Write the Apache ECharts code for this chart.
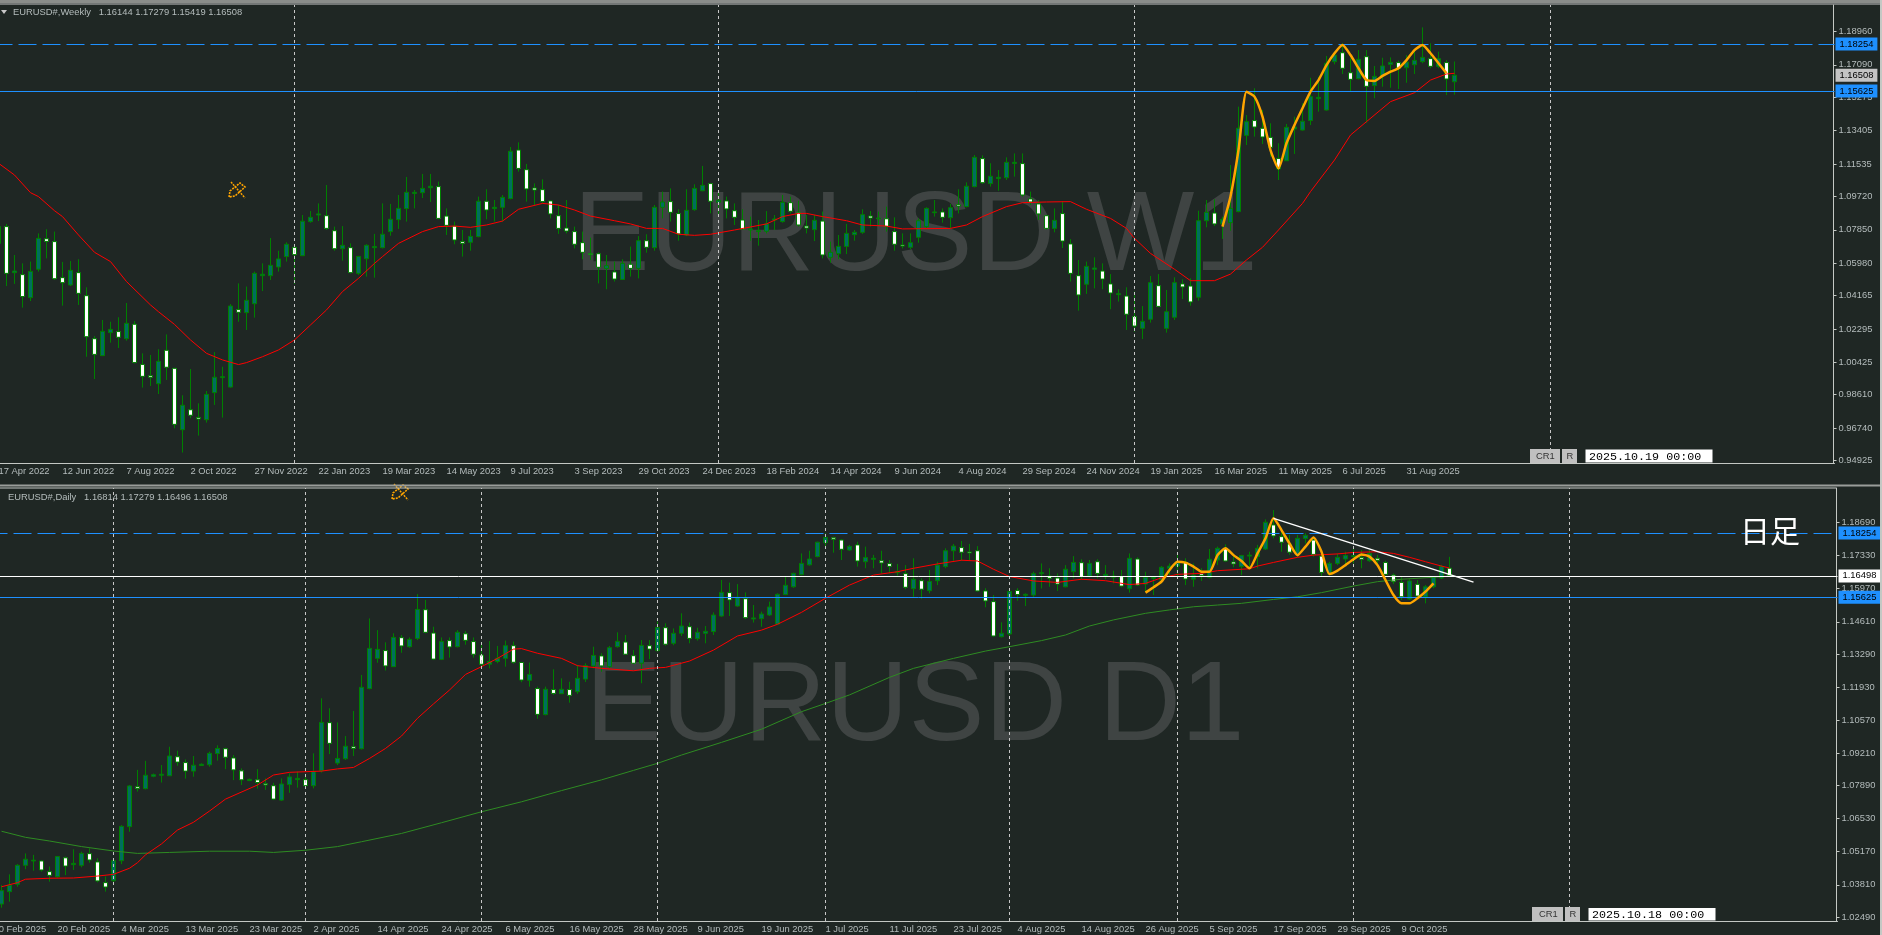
<!DOCTYPE html>
<html>
<head>
<meta charset="utf-8">
<title>EURUSD W1 / D1</title>
<style>
  html, body { margin: 0; padding: 0; background: #1f2724; }
  #chart { width: 1882px; height: 935px; }
</style>
<script src="https://cdn.jsdelivr.net/npm/echarts@6/dist/echarts.min.js"></script>
</head>
<body>
<div id="chart"></div>
<script>
// weekly bars, [open, close, low, high]
const weekBars = [
[1.0709,1.0803,1.0653,1.0821],[1.0803,1.0541,1.0470,1.0818],[1.0545,1.0554,1.0482,1.0644],[1.0534,1.0411,1.0349,1.0597],[1.0405,1.0552,1.0386,1.0607],
[1.0564,1.0737,1.0551,1.0765],[1.0735,1.0720,1.0625,1.0788],[1.0719,1.0511,1.0504,1.0775],[1.0517,1.0489,1.0360,1.0605],[1.0476,1.0558,1.0470,1.0610],
[1.0545,1.0429,1.0364,1.0620],[1.0416,1.0186,1.0074,1.0463],[1.0175,1.0087,0.9949,1.0190],[1.0080,1.0216,1.0078,1.0280],[1.0209,1.0227,1.0153,1.0270],
[1.0215,1.0183,1.0123,1.0295],[1.0175,1.0261,1.0164,1.0375],[1.0256,1.0041,1.0037,1.0274],[1.0031,0.9964,0.9901,1.0093],[0.9968,0.9959,0.9910,1.0084],
[0.9923,1.0048,0.9865,1.0116],[1.0110,1.0015,0.9944,1.0199],[1.0009,0.9695,0.9673,1.0012],[0.9665,0.9802,0.9537,0.9858],[0.9777,0.9746,0.9729,1.0005],
[0.9734,0.9725,0.9632,0.9813],[0.9721,0.9863,0.9705,0.9882],[0.9873,0.9959,0.9804,1.0100],[0.9957,0.9962,0.9733,1.0018],[0.9904,1.0358,0.9901,1.0369],
[1.0338,1.0323,1.0270,1.0485],[1.0321,1.0390,1.0224,1.0467],[1.0371,1.0541,1.0293,1.0551],[1.0528,1.0536,1.0442,1.0597],[1.0528,1.0586,1.0504,1.0739],
[1.0577,1.0622,1.0551,1.0668],[1.0635,1.0704,1.0607,1.0715],[1.0687,1.0646,1.0482,1.0704],[1.0640,1.0833,1.0638,1.0868],[1.0831,1.0855,1.0825,1.0890],
[1.0868,1.0874,1.0834,1.0933],[1.0864,1.0793,1.0784,1.1036],[1.0780,1.0679,1.0668,1.0803],[1.0679,1.0698,1.0612,1.0806],[1.0685,1.0545,1.0541,1.0709],
[1.0541,1.0636,1.0532,1.0638],[1.0623,1.0698,1.0523,1.0704],[1.0685,1.0691,1.0517,1.0762],[1.0685,1.0760,1.0681,1.0933],[1.0775,1.0844,1.0752,1.0930],
[1.0842,1.0905,1.0790,1.0980],[1.0904,1.0995,1.0831,1.1081],[1.0989,1.0995,1.0905,1.1008],[1.0993,1.1017,1.0963,1.1098],[1.1021,1.1029,1.0941,1.1098],
[1.1027,1.0849,1.0844,1.1055],[1.0862,1.0810,1.0756,1.0905],[1.0806,1.0728,1.0704,1.0831],[1.0719,1.0709,1.0635,1.0784],[1.0715,1.0748,1.0668,1.0784],
[1.0747,1.0945,1.0743,1.0971],[1.0945,1.0896,1.0844,1.1012],[1.0904,1.0911,1.0831,1.0952],[1.0911,1.0967,1.0831,1.0980],[1.0960,1.1225,1.0956,1.1249],
[1.1232,1.1129,1.1111,1.1275],[1.1122,1.1014,1.0943,1.1154],[1.1019,1.1008,1.0924,1.1045],[1.1010,1.0943,1.0933,1.1068],[1.0947,1.0874,1.0849,1.0948],
[1.0864,1.0793,1.0762,1.0924],[1.0795,1.0778,1.0765,1.0952],[1.0775,1.0704,1.0681,1.0803],[1.0713,1.0659,1.0620,1.0775],[1.0653,1.0646,1.0616,1.0741],
[1.0651,1.0575,1.0485,1.0659],[1.0569,1.0584,1.0452,1.0644],[1.0549,1.0509,1.0495,1.0607],[1.0507,1.0597,1.0504,1.0620],[1.0592,1.0569,1.0523,1.0691],
[1.0569,1.0724,1.0513,1.0750],[1.0724,1.0687,1.0657,1.0760],[1.0685,1.0911,1.0668,1.0924],[1.0911,1.0941,1.0849,1.0999],[1.0943,1.0883,1.0831,1.1017],
[1.0876,1.0762,1.0724,1.0900],[1.0756,1.0894,1.0750,1.1012],[1.0898,1.1017,1.0892,1.1040],[1.1004,1.1034,1.1001,1.1143],[1.1044,1.0945,1.0877,1.1044],
[1.0939,1.0950,1.0874,1.0999],[1.0947,1.0902,1.0849,1.0971],[1.0892,1.0855,1.0812,1.0933],[1.0840,1.0788,1.0784,1.0900],[1.0784,1.0790,1.0724,1.0859],
[1.0775,1.0780,1.0696,1.0840],[1.0777,1.0818,1.0765,1.0890],[1.0840,1.0846,1.0784,1.0868],[1.0831,1.0939,1.0825,1.0980],[1.0937,1.0889,1.0877,1.0971],
[1.0883,1.0812,1.0803,1.0948],[1.0806,1.0795,1.0765,1.0868],[1.0786,1.0838,1.0722,1.0868],[1.0834,1.0644,1.0625,1.0887],[1.0631,1.0659,1.0601,1.0719],
[1.0651,1.0692,1.0620,1.0756],[1.0692,1.0765,1.0649,1.0818],[1.0758,1.0771,1.0724,1.0784],[1.0771,1.0870,1.0762,1.0900],[1.0862,1.0851,1.0803,1.0890],
[1.0847,1.0851,1.0806,1.0887],[1.0847,1.0803,1.0775,1.0915],[1.0775,1.0704,1.0668,1.0855],[1.0700,1.0694,1.0681,1.0765],[1.0687,1.0713,1.0676,1.0765],
[1.0743,1.0836,1.0713,1.0849],[1.0803,1.0905,1.0795,1.0911],[1.0881,1.0885,1.0859,1.0952],[1.0885,1.0855,1.0825,1.0905],[1.0853,1.0909,1.0793,1.0930],
[1.0926,1.0918,1.0877,1.1012],[1.0915,1.1029,1.0911,1.1051],[1.1027,1.1191,1.1023,1.1204],[1.1184,1.1049,1.1042,1.1202],[1.1044,1.1085,1.1027,1.1158],
[1.1072,1.1079,1.1004,1.1120],[1.1077,1.1163,1.1064,1.1191],[1.1157,1.1163,1.1083,1.1213],[1.1156,1.0980,1.0971,1.1213],[1.0958,1.0941,1.0924,1.0999],
[1.0930,1.0874,1.0840,1.0952],[1.0864,1.0793,1.0788,1.0868],[1.0793,1.0838,1.0771,1.0905],[1.0876,1.0722,1.0683,1.0943],[1.0706,1.0541,1.0495,1.0733],
[1.0528,1.0420,1.0332,1.0616],[1.0480,1.0580,1.0426,1.0607],[1.0564,1.0571,1.0457,1.0631],[1.0554,1.0509,1.0452,1.0597],[1.0482,1.0431,1.0340,1.0537],
[1.0422,1.0427,1.0383,1.0452],[1.0414,1.0312,1.0224,1.0463],[1.0299,1.0246,1.0214,1.0439],[1.0233,1.0272,1.0173,1.0358],[1.0284,1.0489,1.0265,1.0526],
[1.0472,1.0356,1.0351,1.0537],[1.0233,1.0326,1.0209,1.0448],[1.0295,1.0489,1.0280,1.0519],[1.0482,1.0465,1.0397,1.0508],[1.0470,1.0381,1.0360,1.0513],
[1.0407,1.0836,1.0388,1.0892],[1.0836,1.0883,1.0799,1.0952],[1.0879,1.0818,1.0806,1.0956],[1.0818,1.0844,1.0734,1.0859],[1.0825,1.0905,1.0780,1.1148],
[1.0887,1.1354,1.0883,1.1475],[1.1314,1.1391,1.1260,1.1428],[1.1397,1.1361,1.1307,1.1578],[1.1354,1.1305,1.1266,1.1456],[1.1303,1.1247,1.1195,1.1382],
[1.1185,1.1126,1.1064,1.1270],[1.1172,1.1359,1.1171,1.1378],[1.1350,1.1361,1.1210,1.1419],[1.1344,1.1393,1.1341,1.1494],[1.1397,1.1531,1.1372,1.1637],
[1.1520,1.1527,1.1447,1.1643],[1.1456,1.1718,1.1453,1.1759],[1.1727,1.1764,1.1712,1.1783],[1.1777,1.1690,1.1658,1.1830],[1.1665,1.1628,1.1563,1.1746],
[1.1632,1.1740,1.1628,1.1792],[1.1755,1.1589,1.1385,1.1792],[1.1593,1.1645,1.1522,1.1703],[1.1647,1.1703,1.1587,1.1749],[1.1712,1.1723,1.1581,1.1751],
[1.1722,1.1690,1.1574,1.1733],[1.1693,1.1725,1.1609,1.1764],[1.1710,1.1734,1.1658,1.1792],[1.1727,1.1751,1.1718,1.1919],[1.1744,1.1701,1.1690,1.1830],
[1.1701,1.1744,1.1690,1.1783],[1.1722,1.1630,1.1540,1.1736],[1.16144,1.16508,1.15419,1.17279]
];
// daily bars, [open, close, low, high]
const dayBars = [
[1.0330,1.0345,1.0310,1.0360],[1.0302,1.0357,1.0287,1.0380],[1.0353,1.0379,1.0312,1.0424],[1.0383,1.0461,1.0373,1.0466],[1.0461,1.0486,1.0445,1.0510],
[1.0479,1.0482,1.0439,1.0504],[1.0479,1.0442,1.0435,1.0483],[1.0435,1.0420,1.0394,1.0456],[1.0414,1.0497,1.0410,1.0499],[1.0492,1.0458,1.0421,1.0497],
[1.0464,1.0469,1.0442,1.0527],[1.0461,1.0510,1.0453,1.0517],[1.0509,1.0483,1.0472,1.0531],[1.0475,1.0397,1.0391,1.0490],[1.0390,1.0372,1.0353,1.0415],
[1.0398,1.0480,1.0380,1.0490],[1.0480,1.0621,1.0466,1.0626],[1.0620,1.0787,1.0599,1.0791],[1.0784,1.0777,1.0764,1.0853],[1.0776,1.0831,1.0773,1.0890],
[1.0827,1.0833,1.0823,1.0838],[1.0831,1.0835,1.0801,1.0873],[1.0829,1.0910,1.0828,1.0948],[1.0907,1.0885,1.0870,1.0932],[1.0883,1.0848,1.0817,1.0896],
[1.0848,1.0872,1.0825,1.0910],[1.0871,1.0876,1.0869,1.0880],[1.0874,1.0921,1.0866,1.0928],[1.0920,1.0941,1.0891,1.0954],[1.0940,1.0905,1.0856,1.0944],
[1.0902,1.0853,1.0811,1.0914],[1.0849,1.0812,1.0791,1.0859],[1.0809,1.0814,1.0807,1.0817],[1.0812,1.0801,1.0776,1.0856],[1.0796,1.0791,1.0771,1.0818],
[1.0788,1.0733,1.0729,1.0800],[1.0729,1.0795,1.0726,1.0818],[1.0793,1.0824,1.0759,1.0839],[1.0813,1.0818,1.0780,1.0846],[1.0813,1.0788,1.0777,1.0825],
[1.0788,1.0846,1.0777,1.0921],[1.0850,1.1048,1.0842,1.1147],[1.1047,1.0962,1.0918,1.1106],[1.0881,1.0900,1.0873,1.1048],[1.0899,1.0950,1.0894,1.0992],
[1.0948,1.0941,1.0910,1.1095],[1.0940,1.1192,1.0937,1.1243],[1.1187,1.1352,1.1184,1.1475],[1.1311,1.1348,1.1293,1.1427],[1.1343,1.1280,1.1261,1.1377],
[1.1277,1.1397,1.1276,1.1414],[1.1396,1.1362,1.1334,1.1407],[1.1359,1.1389,1.1355,1.1397],[1.1393,1.1512,1.1386,1.1575],[1.1511,1.1418,1.1414,1.1551],
[1.1415,1.1308,1.1304,1.1441],[1.1307,1.1380,1.1304,1.1397],[1.1384,1.1358,1.1314,1.1397],[1.1359,1.1418,1.1356,1.1427],[1.1412,1.1385,1.1367,1.1423],
[1.1380,1.1328,1.1314,1.1397],[1.1325,1.1287,1.1277,1.1366],[1.1287,1.1298,1.1270,1.1382],[1.1298,1.1311,1.1291,1.1362],[1.1311,1.1363,1.1277,1.1384],
[1.1363,1.1295,1.1289,1.1380],[1.1294,1.1222,1.1213,1.1297],[1.1221,1.1245,1.1195,1.1294],[1.1187,1.1081,1.1063,1.1195],[1.1080,1.1184,1.1077,1.1195],
[1.1183,1.1167,1.1161,1.1266],[1.1166,1.1184,1.1165,1.1229],[1.1183,1.1159,1.1129,1.1215],[1.1174,1.1229,1.1165,1.1284],[1.1226,1.1281,1.1214,1.1291],
[1.1280,1.1323,1.1270,1.1359],[1.1321,1.1280,1.1256,1.1332],[1.1277,1.1355,1.1270,1.1362],[1.1359,1.1381,1.1355,1.1418],[1.1378,1.1328,1.1325,1.1407],
[1.1322,1.1291,1.1288,1.1345],[1.1291,1.1364,1.1209,1.1386],[1.1363,1.1349,1.1308,1.1386],[1.1343,1.1438,1.1339,1.1462],[1.1437,1.1369,1.1363,1.1455],
[1.1373,1.1414,1.1365,1.1434],[1.1414,1.1444,1.1403,1.1496],[1.1441,1.1393,1.1373,1.1458],[1.1392,1.1418,1.1384,1.1437],[1.1414,1.1422,1.1373,1.1444],
[1.1421,1.1489,1.1407,1.1500],[1.1485,1.1582,1.1482,1.1633],[1.1581,1.1551,1.1485,1.1622],[1.1526,1.1562,1.1523,1.1616],[1.1556,1.1478,1.1473,1.1582],
[1.1473,1.1477,1.1458,1.1530],[1.1474,1.1493,1.1441,1.1503],[1.1489,1.1522,1.1485,1.1544],[1.1452,1.1574,1.1451,1.1578],[1.1573,1.1611,1.1571,1.1647],
[1.1605,1.1660,1.1601,1.1663],[1.1655,1.1701,1.1652,1.1742],[1.1695,1.1719,1.1692,1.1753],[1.1729,1.1788,1.1726,1.1790],[1.1786,1.1808,1.1763,1.1825],
[1.1806,1.1800,1.1745,1.1811],[1.1797,1.1759,1.1715,1.1800],[1.1756,1.1771,1.1753,1.1777],[1.1777,1.1711,1.1688,1.1790],[1.1708,1.1725,1.1681,1.1770],
[1.1718,1.1722,1.1681,1.1736],[1.1712,1.1703,1.1660,1.1753],[1.1700,1.1689,1.1660,1.1715],[1.1663,1.1667,1.1651,1.1699],[1.1659,1.1603,1.1595,1.1694],
[1.1597,1.1636,1.1564,1.1722],[1.1630,1.1595,1.1556,1.1640],[1.1589,1.1627,1.1578,1.1674],[1.1630,1.1694,1.1612,1.1708],[1.1688,1.1753,1.1681,1.1763],
[1.1753,1.1772,1.1711,1.1781],[1.1766,1.1747,1.1711,1.1793],[1.1748,1.1744,1.1711,1.1781],[1.1753,1.1588,1.1585,1.1772],[1.1588,1.1547,1.1521,1.1599],
[1.1544,1.1403,1.1400,1.1571],[1.1400,1.1414,1.1397,1.1459],[1.1411,1.1586,1.1393,1.1589],[1.1590,1.1573,1.1548,1.1599],[1.1570,1.1574,1.1526,1.1578],
[1.1571,1.1659,1.1562,1.1667],[1.1659,1.1663,1.1598,1.1701],[1.1649,1.1640,1.1605,1.1681],[1.1641,1.1616,1.1588,1.1660],[1.1605,1.1677,1.1603,1.1694],
[1.1667,1.1705,1.1640,1.1731],[1.1704,1.1647,1.1636,1.1718],[1.1649,1.1701,1.1644,1.1715],[1.1708,1.1660,1.1640,1.1718],[1.1649,1.1656,1.1636,1.1694],
[1.1644,1.1649,1.1619,1.1671],[1.1647,1.1608,1.1603,1.1674],[1.1597,1.1722,1.1581,1.1742],[1.1719,1.1612,1.1608,1.1726],[1.1616,1.1644,1.1585,1.1667],
[1.1640,1.1644,1.1571,1.1647],[1.1633,1.1685,1.1619,1.1690],[1.1681,1.1690,1.1654,1.1701],[1.1690,1.1708,1.1647,1.1739],[1.1705,1.1637,1.1612,1.1722],
[1.1636,1.1653,1.1605,1.1701],[1.1659,1.1652,1.1629,1.1681],[1.1644,1.1718,1.1640,1.1760],[1.1715,1.1763,1.1694,1.1770],[1.1763,1.1711,1.1708,1.1779],
[1.1707,1.1699,1.1685,1.1742],[1.1688,1.1733,1.1653,1.1736],[1.1731,1.1735,1.1681,1.1749],[1.1729,1.1763,1.1681,1.1777],[1.1760,1.1870,1.1756,1.1882],
[1.1859,1.1814,1.1804,1.1920],[1.1811,1.1788,1.1749,1.1845],[1.1781,1.1747,1.1736,1.1818],[1.1736,1.1804,1.1729,1.1818],[1.1803,1.1816,1.1783,1.1825],
[1.1797,1.1738,1.1729,1.1811],[1.1731,1.1664,1.1647,1.1735],[1.1657,1.1701,1.1653,1.1708],[1.1701,1.1726,1.1694,1.1742],[1.1719,1.1733,1.1694,1.1749],
[1.1729,1.1733,1.1701,1.1763],[1.1725,1.1718,1.1681,1.1756],[1.1712,1.1742,1.1708,1.1756],[1.1722,1.1714,1.1694,1.1736],[1.1705,1.1656,1.1653,1.1712],
[1.1653,1.1626,1.1616,1.1660],[1.1623,1.1564,1.1551,1.1647],[1.1555,1.1629,1.1551,1.1636],[1.1615,1.1567,1.1558,1.1633],[1.1564,1.1605,1.1537,1.1612],
[1.1605,1.1644,1.1599,1.1649],[1.1641,1.1688,1.1637,1.1695],[1.16814,1.16508,1.16496,1.17279]
];

// moving averages and hand drawn lines, [bar index, price]
const weekMa = [[0,1.1158],[2,1.1092],[4,1.0993],[5,1.0971],[7,1.0892],[8,1.0859],[10,1.0756],[12,1.0659],[14,1.0607],[16,1.0495],[19,1.0364],[20,1.0326],[22,1.0255],[24,1.0168],[26,1.0093],[28,1.0056],[30,1.0030],[31,1.0041],[33,1.0074],[35,1.0112],[37,1.0168],[39,1.0252],[41,1.0336],[43,1.0439],[45,1.0513],[47,1.0597],[48,1.0635],[50,1.0709],[53,1.0775],[55,1.0803],[57,1.0806],[59,1.0799],[61,1.0812],[63,1.0834],[65,1.0900],[68,1.0933],[70,1.0924],[72,1.0896],[74,1.0862],[77,1.0836],[79,1.0818],[81,1.0793],[83,1.0793],[85,1.0760],[87,1.0754],[89,1.0760],[92,1.0784],[96,1.0818],[98,1.0859],[100,1.0877],[101,1.0877],[103,1.0859],[106,1.0836],[108,1.0812],[111,1.0806],[113,1.0790],[119,1.0793],[121,1.0812],[123,1.0859],[126,1.0915],[128,1.0937],[131,1.0941],[134,1.0943],[136,1.0900],[139,1.0849],[141,1.0793],[142,1.0737],[144,1.0653],[147,1.0564],[149,1.0500],[152,1.0500],[154,1.0537],[156,1.0616],[158,1.0687],[160,1.0784],[163,1.0933],[164,1.0999],[167,1.1176],[169,1.1316],[171,1.1391],[174,1.1503],[177,1.1553],[179,1.1624],[181,1.1658],[182,1.1662]];
const weekCurve = [[153,1.0803],[154,1.0971],[155,1.1232],[156,1.1559],[157,1.1531],[158,1.1419],[159,1.1232],[160,1.1129],[161,1.1270],[162,1.1372],[163,1.1466],[164,1.1559],[165,1.1624],[166,1.1708],[167,1.1774],[168,1.1820],[169,1.1764],[170,1.1690],[171,1.1624],[172,1.1619],[173,1.1647],[174,1.1671],[175,1.1690],[176,1.1736],[177,1.1792],[178,1.1820],[179,1.1774],[180,1.1718],[181,1.1662]];
const dayMaFast = [[1,1.0373],[3,1.0390],[4,1.0404],[7,1.0408],[10,1.0409],[13,1.0417],[15,1.0424],[17,1.0449],[18,1.0472],[19,1.0504],[21,1.0549],[23,1.0606],[25,1.0638],[27,1.0684],[29,1.0733],[33,1.0791],[35,1.0832],[37,1.0843],[41,1.0848],[43,1.0857],[45,1.0863],[47,1.0900],[49,1.0941],[51,1.0992],[53,1.1065],[55,1.1124],[57,1.1181],[59,1.1245],[61,1.1277],[63,1.1311],[65,1.1349],[66,1.1351],[68,1.1332],[71,1.1311],[73,1.1281],[76,1.1270],[80,1.1260],[82,1.1270],[84,1.1274],[87,1.1300],[90,1.1345],[93,1.1403],[96,1.1427],[98,1.1451],[101,1.1500],[104,1.1558],[107,1.1612],[110,1.1653],[113,1.1667],[115,1.1681],[118,1.1699],[121,1.1714],[123,1.1711],[125,1.1677],[127,1.1647],[130,1.1629],[133,1.1623],[136,1.1636],[139,1.1630],[142,1.1614],[144,1.1619],[146,1.1642],[148,1.1656],[151,1.1660],[153,1.1671],[156,1.1677],[157,1.1679],[158,1.1690],[160,1.1705],[163,1.1726],[165,1.1735],[168,1.1740],[170,1.1746],[173,1.1749],[175,1.1742],[177,1.1726],[179,1.1708],[181,1.1690],[182,1.1682]];
const dayMaSlow = [[1,1.0601],[4,1.0576],[7,1.0561],[11,1.0538],[15,1.0520],[18,1.0510],[22,1.0514],[27,1.0519],[32,1.0519],[35,1.0514],[39,1.0523],[43,1.0538],[46,1.0558],[51,1.0592],[56,1.0636],[61,1.0681],[66,1.0722],[71,1.0768],[76,1.0812],[80,1.0851],[83,1.0880],[86,1.0914],[91,1.0966],[96,1.1020],[101,1.1092],[104,1.1126],[107,1.1161],[112,1.1233],[115,1.1270],[120,1.1311],[124,1.1341],[127,1.1359],[131,1.1384],[134,1.1407],[137,1.1444],[140,1.1469],[144,1.1496],[147,1.1510],[150,1.1523],[153,1.1530],[156,1.1537],[160,1.1553],[163,1.1564],[166,1.1581],[170,1.1608],[173,1.1626],[176,1.1636],[180,1.1644],[182,1.1649]];
const dayCurve = [[144,1.1581],[145,1.1603],[146,1.1626],[147,1.1674],[148,1.1708],[149,1.1704],[150,1.1688],[151,1.1667],[152,1.1667],[153,1.1735],[154,1.1763],[155,1.1735],[156,1.1711],[157,1.1681],[158,1.1742],[159,1.1804],[160,1.1886],[161,1.1838],[162,1.1783],[163,1.1735],[164,1.1770],[165,1.1807],[166,1.1749],[167,1.1657],[168,1.1671],[169,1.1694],[170,1.1718],[171,1.1738],[172,1.1729],[173,1.1694],[174,1.1633],[175,1.1571],[176,1.1537],[177,1.1537],[178,1.1558],[179,1.1585],[180,1.1619]];
const dayTrend = [[160,1.1886],[185,1.1624]];

const weekTicks = ['17 Apr 2022','12 Jun 2022','7 Aug 2022','2 Oct 2022','27 Nov 2022','22 Jan 2023','19 Mar 2023','14 May 2023','9 Jul 2023','3 Sep 2023','29 Oct 2023','24 Dec 2023','18 Feb 2024','14 Apr 2024','9 Jun 2024','4 Aug 2024','29 Sep 2024','24 Nov 2024','19 Jan 2025','16 Mar 2025','11 May 2025','6 Jul 2025','31 Aug 2025'];
const dayTicks = ['10 Feb 2025','20 Feb 2025','4 Mar 2025','13 Mar 2025','23 Mar 2025','2 Apr 2025','14 Apr 2025','24 Apr 2025','6 May 2025','16 May 2025','28 May 2025','9 Jun 2025','19 Jun 2025','1 Jul 2025','11 Jul 2025','23 Jul 2025','4 Aug 2025','14 Aug 2025','26 Aug 2025','5 Sep 2025','17 Sep 2025','29 Sep 2025','9 Oct 2025'];
const weekPrices = [1.18960,1.17090,1.15275,1.13405,1.11535,1.09720,1.07850,1.05980,1.04165,1.02295,1.00425,0.98610,0.96740,0.94925];
const dayPrices = [1.18690,1.17330,1.15970,1.14610,1.13290,1.11930,1.10570,1.09210,1.07890,1.06530,1.05170,1.03810,1.02490];
const weekSeparators = [37, 90, 142, 194];
const daySeparators = [15, 39, 61, 83, 104, 127, 148, 170, 197];
const resistance = 1.18254;
const support = 1.15625;
const weekLast = 1.16508;
const dayBid = 1.16498;

const BG = '#1f2724';
const FONT = '"Liberation Sans", Arial, sans-serif';
const AXIS_TEXT = '#b4bcbc';
const FRAME = '#c4c8c4';
const BLUE = '#1e90ff';
const ORANGE = '#ffa500';

// a category per bar slot, only every eighth one carries a date
const slots = (ticks, count) => Array.from({ length: count }, (_, i) => (i % 8 === 0 && ticks[i / 8]) || '');

const xAxis = (gridIndex, ticks, count) => ({
  type: 'category',
  gridIndex,
  data: slots(ticks, count),
  boundaryGap: true,
  axisLine: { lineStyle: { color: FRAME, width: 1 } },
  axisTick: { interval: 7, alignWithLabel: true, length: 4, lineStyle: { color: FRAME } },
  axisLabel: { interval: 7, align: 'left', margin: 4, color: AXIS_TEXT, fontFamily: FONT, fontSize: 9.4 },
  splitLine: { show: false }
});

const yAxis = (gridIndex, min, max, prices) => ({
  type: 'value',
  gridIndex,
  position: 'right',
  offset: -1,
  min,
  max,
  scale: true,
  axisLine: { show: true, lineStyle: { color: FRAME, width: 1 } },
  axisTick: { show: true, customValues: prices, length: 3, lineStyle: { color: FRAME } },
  axisLabel: { customValues: prices, margin: 5, color: AXIS_TEXT, fontFamily: FONT, fontSize: 9.4, formatter: v => v.toFixed(5) },
  splitLine: { show: false }
});

const candles = (i, data) => ({
  type: 'candlestick',
  xAxisIndex: i,
  yAxisIndex: i,
  data,
  barWidth: 5,
  z: 3,
  itemStyle: { color: '#006e5e', color0: '#ffffff', borderColor: '#008000', borderColor0: '#008000', borderColorDoji: '#008000', borderWidth: 1 }
});

const line = (i, data, color, width, smooth, z) => ({
  type: 'line',
  xAxisIndex: i,
  yAxisIndex: i,
  data,
  showSymbol: false,
  symbol: 'none',
  smooth: smooth || false,
  z: z || 4,
  lineStyle: { color, width }
});

// dashed period separators
const separators = (i, bars) => ({
  type: 'line',
  xAxisIndex: i,
  yAxisIndex: i,
  data: [],
  z: 2,
  markLine: {
    silent: true,
    symbol: 'none',
    animation: false,
    label: { show: false },
    lineStyle: { color: '#c8c8c8', type: [3, 3], width: 1 },
    data: bars.map(b => ({ xAxis: b }))
  }
});

const level = (value, color, type, boxColor, textColor) => ({
  yAxis: value,
  lineStyle: { color, type, width: 1 },
  label: {
    show: true,
    position: 'end',
    distance: 1,
    formatter: value.toFixed(5),
    backgroundColor: boxColor,
    color: textColor,
    fontFamily: FONT,
    fontSize: 9.4,
    padding: [2, 4, 1, 4],
    lineHeight: 10
  }
});

const levels = (i, list) => ({
  type: 'line',
  xAxisIndex: i,
  yAxisIndex: i,
  data: [],
  z: 5,
  markLine: { silent: true, symbol: 'none', animation: false, precision: 5, data: list }
});

const text = (x, y, str, fontSize, fill, font, z) => ({
  type: 'text',
  z: z || 1,
  silent: true,
  style: { x, y, text: str, fill, font: fontSize + 'px ' + (font || FONT), verticalAlign: 'middle' }
});

const box = (x, y, w, h, fill, stroke) => ({
  type: 'rect',
  z: 20,
  silent: true,
  shape: { x, y, width: w, height: h },
  style: { fill, stroke: stroke || null, lineWidth: 1 }
});

// the little orange pencil objects left on the charts
const pencil = (dx, dy) => ({
  type: 'group',
  x: dx,
  y: dy,
  z: 6,
  silent: true,
  children: [
    { type: 'polygon', z: 6, shape: { points: [[229, 197], [230, 191], [240, 183], [245, 187], [235, 196]] }, style: { fill: 'none', stroke: ORANGE, lineWidth: 1.6, lineDash: [2, 1] } },
    { type: 'line', z: 6, shape: { x1: 231, y1: 182, x2: 245, y2: 198 }, style: { stroke: ORANGE, lineWidth: 1.4, lineDash: [2, 1] } }
  ]
});

const chart = echarts.init(document.getElementById('chart'));

chart.setOption({
  backgroundColor: BG,
  animation: false,
  grid: [
    { left: -5.5, top: 5, width: 1840, height: 458, outerBoundsMode: 'none' },
    { left: -10.5, top: 488, width: 1848, height: 433, outerBoundsMode: 'none' }
  ],
  xAxis: [xAxis(0, weekTicks, 230), xAxis(1, dayTicks, 231)],
  yAxis: [yAxis(0, 0.94786, 1.20445, weekPrices), yAxis(1, 1.02324, 1.20107, dayPrices)],
  series: [
    separators(0, weekSeparators),
    candles(0, weekBars),
    line(0, weekMa, '#ff0000', 1),
    line(0, weekCurve, ORANGE, 2.5, 0.2, 6),
    levels(0, [
      level(resistance, BLUE, [18, 6], BLUE, '#000000'),
      level(support, BLUE, 'solid', BLUE, '#000000'),
      // last price only has its tag, no line across the pane
      level(weekLast, 'rgba(0,0,0,0)', 'solid', '#c4c4c4', '#000000')
    ]),
    separators(1, daySeparators),
    candles(1, dayBars),
    line(1, dayMaSlow, '#2e8b22', 1),
    line(1, dayMaFast, '#ff0000', 1),
    line(1, dayTrend, '#ffffff', 1.4, false, 7),
    line(1, dayCurve, ORANGE, 2.5, 0.2, 6),
    levels(1, [
      level(resistance, BLUE, [18, 6], BLUE, '#000000'),
      level(support, BLUE, 'solid', BLUE, '#000000'),
      level(dayBid, '#ffffff', 'solid', '#ffffff', '#000000')
    ])
  ],
  graphic: [
    // watermarks sit under the candles
    text(573.6, 239, 'EURUSD W1', 114, '#3f4443'),
    text(585.6, 709, 'EURUSD D1', 114, '#3f4443'),
    pencil(0, 0),
    pencil(163, 302),
    // window chrome
    box(0, 0, 1882, 3, '#8a8d8a'),
    box(0, 3.5, 1882, 1, '#c8c8c8'),
    box(0, 484.5, 1882, 2, '#9a9d9a'),
    box(0, 487.5, 1836, 1, '#c4c8c4'),
    box(1880, 0, 2, 935, '#c4c8c4'),
    text(13, 12.5, 'EURUSD#,Weekly   1.16144 1.17279 1.15419 1.16508', 9.4, AXIS_TEXT, FONT, 21),
    text(8, 497, 'EURUSD#,Daily   1.16814 1.17279 1.16496 1.16508', 9.4, AXIS_TEXT, FONT, 21),
    { type: 'polygon', z: 21, silent: true, shape: { points: [[1, 10], [7, 10], [4, 14]] }, style: { fill: '#c8c8c8' } },
    text(1740, 531, '日足', 30, '#ffffff', '"Noto Sans CJK JP", sans-serif', 21),
    // tester style buttons and date boxes
    box(1530, 449, 30, 14, '#c0c0c0'),
    box(1562, 449, 15, 14, '#c0c0c0'),
    box(1585.5, 449.5, 127, 13, '#ffffff'),
    text(1536, 456.5, 'CR1', 9.4, '#333333', FONT, 21),
    text(1566.5, 456.5, 'R', 9.4, '#333333', FONT, 21),
    text(1589, 456.5, '2025.10.19 00:00', 11.7, '#000000', '"Liberation Mono", monospace', 21),
    box(1532, 907, 31, 14, '#c0c0c0'),
    box(1565, 907, 15, 14, '#c0c0c0'),
    box(1588.5, 908, 127, 12.5, '#ffffff'),
    text(1539, 914.5, 'CR1', 9.4, '#333333', FONT, 21),
    text(1569.5, 914.5, 'R', 9.4, '#333333', FONT, 21),
    text(1592, 914.5, '2025.10.18 00:00', 11.7, '#000000', '"Liberation Mono", monospace', 21)
  ]
});

window.addEventListener('resize', () => chart.resize());
</script>
</body>
</html>
